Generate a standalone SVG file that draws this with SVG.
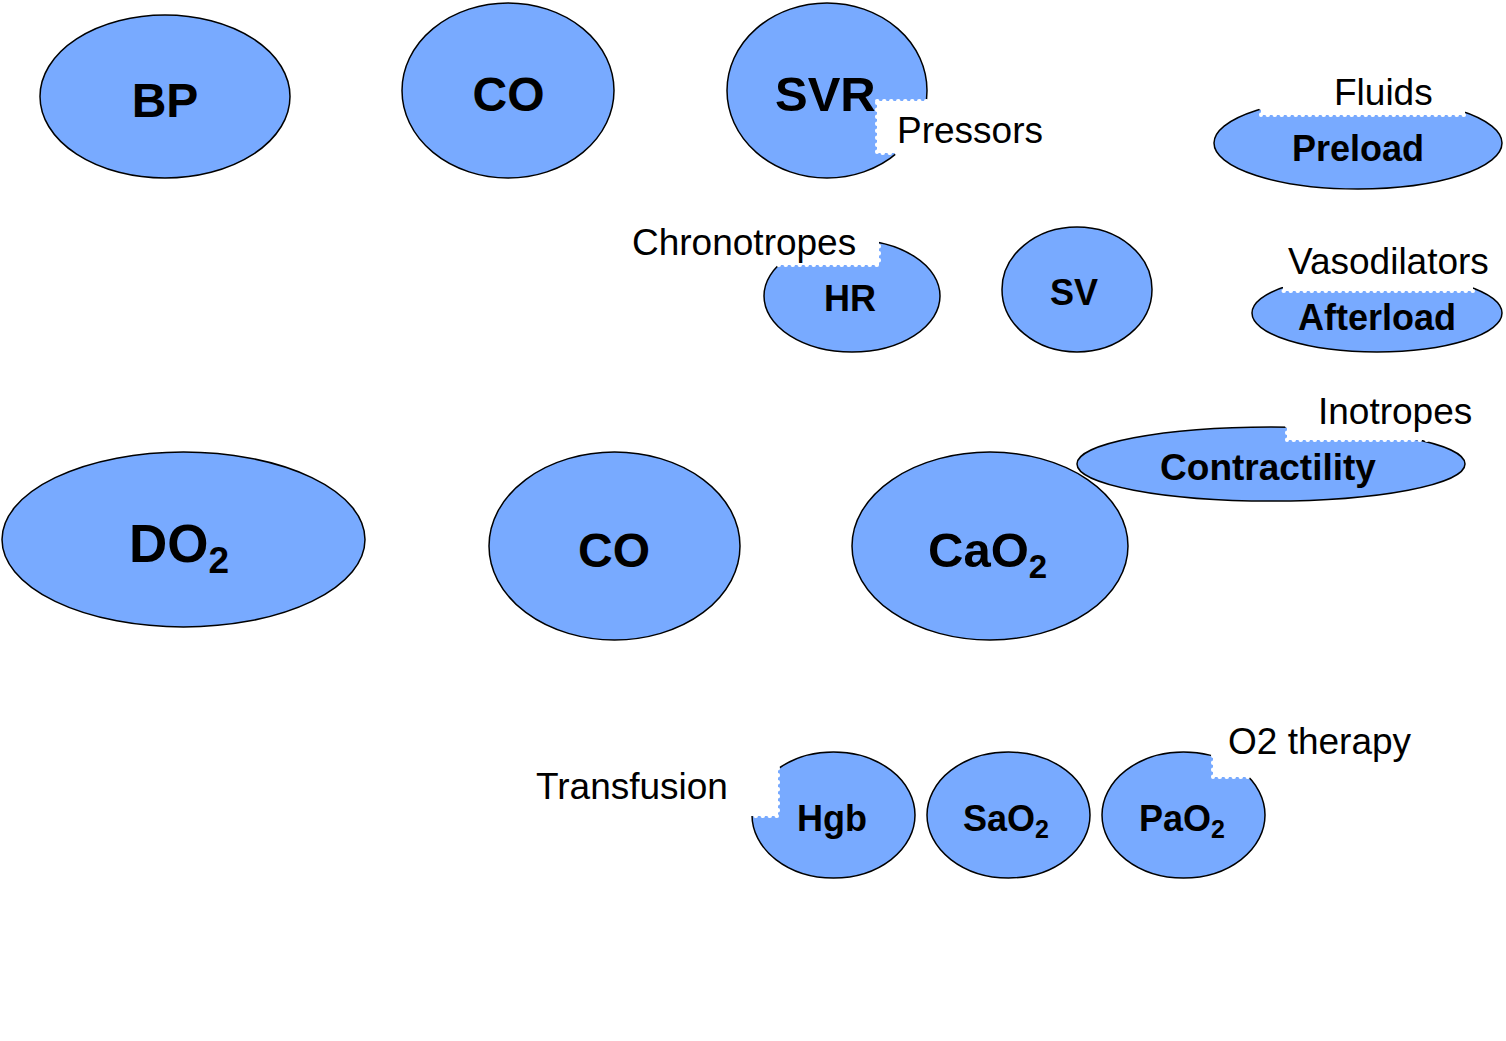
<svg xmlns="http://www.w3.org/2000/svg" width="1506" height="1041" viewBox="0 0 1506 1041">
<style>
.n{fill:#78AAFF;stroke:#000;stroke-width:1.5}
.b{font-family:"Liberation Sans",Arial,sans-serif;font-weight:bold;fill:#000}
.r{font-family:"Liberation Sans",Arial,sans-serif;font-size:37px;fill:#000}
.box{fill:#fff;stroke:#fff;stroke-width:4;stroke-dasharray:0.5 6.5;stroke-linecap:round}
</style>
<rect width="1506" height="1041" fill="#fff"/>
<g id="connectors"/>
<g id="BP"><ellipse class="n" cx="165" cy="96.5" rx="125" ry="81.5"/><text class="b" font-size="48" x="165" y="117" text-anchor="middle">BP</text></g>
<g id="CO-top"><ellipse class="n" cx="508" cy="90.5" rx="106" ry="87.5"/><text class="b" font-size="48" x="508.5" y="111" text-anchor="middle">CO</text></g>
<g id="SVR"><ellipse class="n" cx="827" cy="90.5" rx="100" ry="87.5"/><text class="b" font-size="49" x="775" y="111">SVR</text>
<rect class="box" x="877" y="101" width="180" height="52"/><text class="r" x="897" y="143">Pressors</text></g>
<g id="Preload"><ellipse class="n" cx="1358" cy="143" rx="144" ry="46"/>
<rect class="box" x="1261" y="68" width="204" height="47"/><text class="r" x="1334" y="105">Fluids</text>
<text class="b" font-size="36" x="1358" y="161" text-anchor="middle">Preload</text></g>
<g id="HR"><ellipse class="n" cx="852" cy="296" rx="88" ry="56"/>
<rect class="box" x="620" y="218" width="259" height="47"/><text class="r" x="632" y="255">Chronotropes</text>
<text class="b" font-size="36" x="850" y="311" text-anchor="middle">HR</text></g>
<g id="SV"><ellipse class="n" cx="1077" cy="289.5" rx="75" ry="62.5"/><text class="b" font-size="36" x="1074" y="305" text-anchor="middle">SV</text></g>
<g id="Afterload"><ellipse class="n" cx="1377" cy="313" rx="125" ry="39"/>
<rect class="box" x="1283" y="243" width="190" height="48"/><text class="r" x="1288" y="274">Vasodilators</text>
<text class="b" font-size="36" x="1377" y="330" text-anchor="middle">Afterload</text></g>
<g id="DO2"><ellipse class="n" cx="183.5" cy="539.5" rx="181.5" ry="87.5"/><text class="b" font-size="53" x="129" y="562">DO<tspan font-size="37" dy="11">2</tspan></text></g>
<g id="CO-mid"><ellipse class="n" cx="614.5" cy="546" rx="125.5" ry="94"/><text class="b" font-size="48" x="614" y="567" text-anchor="middle">CO</text></g>
<g id="CaO2"><ellipse class="n" cx="990" cy="546" rx="138" ry="94"/><text class="b" font-size="49" x="928" y="567">CaO<tspan font-size="33" dy="11">2</tspan></text></g>
<g id="Contractility"><ellipse class="n" cx="1271" cy="464" rx="194" ry="37"/>
<rect class="box" x="1287" y="393" width="190" height="47"/><text class="r" x="1318" y="424">Inotropes</text>
<text class="b" font-size="37" x="1268" y="480" text-anchor="middle">Contractility</text></g>
<g id="Hgb"><ellipse class="n" cx="833.5" cy="815" rx="81.5" ry="63"/>
<rect class="box" x="520" y="760" width="258" height="56"/><text class="r" x="536" y="799">Transfusion</text>
<text class="b" font-size="36" x="797" y="831">Hgb</text></g>
<g id="SaO2"><ellipse class="n" cx="1008.5" cy="815" rx="81.5" ry="63"/><text class="b" font-size="36" x="963" y="831">SaO<tspan font-size="25" dy="7">2</tspan></text></g>
<g id="PaO2"><ellipse class="n" cx="1183.5" cy="815" rx="81.5" ry="63"/>
<rect class="box" x="1213" y="718" width="205" height="59"/><text class="r" x="1228" y="754">O2 therapy</text>
<text class="b" font-size="36" x="1139" y="831">PaO<tspan font-size="25" dy="7">2</tspan></text></g>
</svg>
